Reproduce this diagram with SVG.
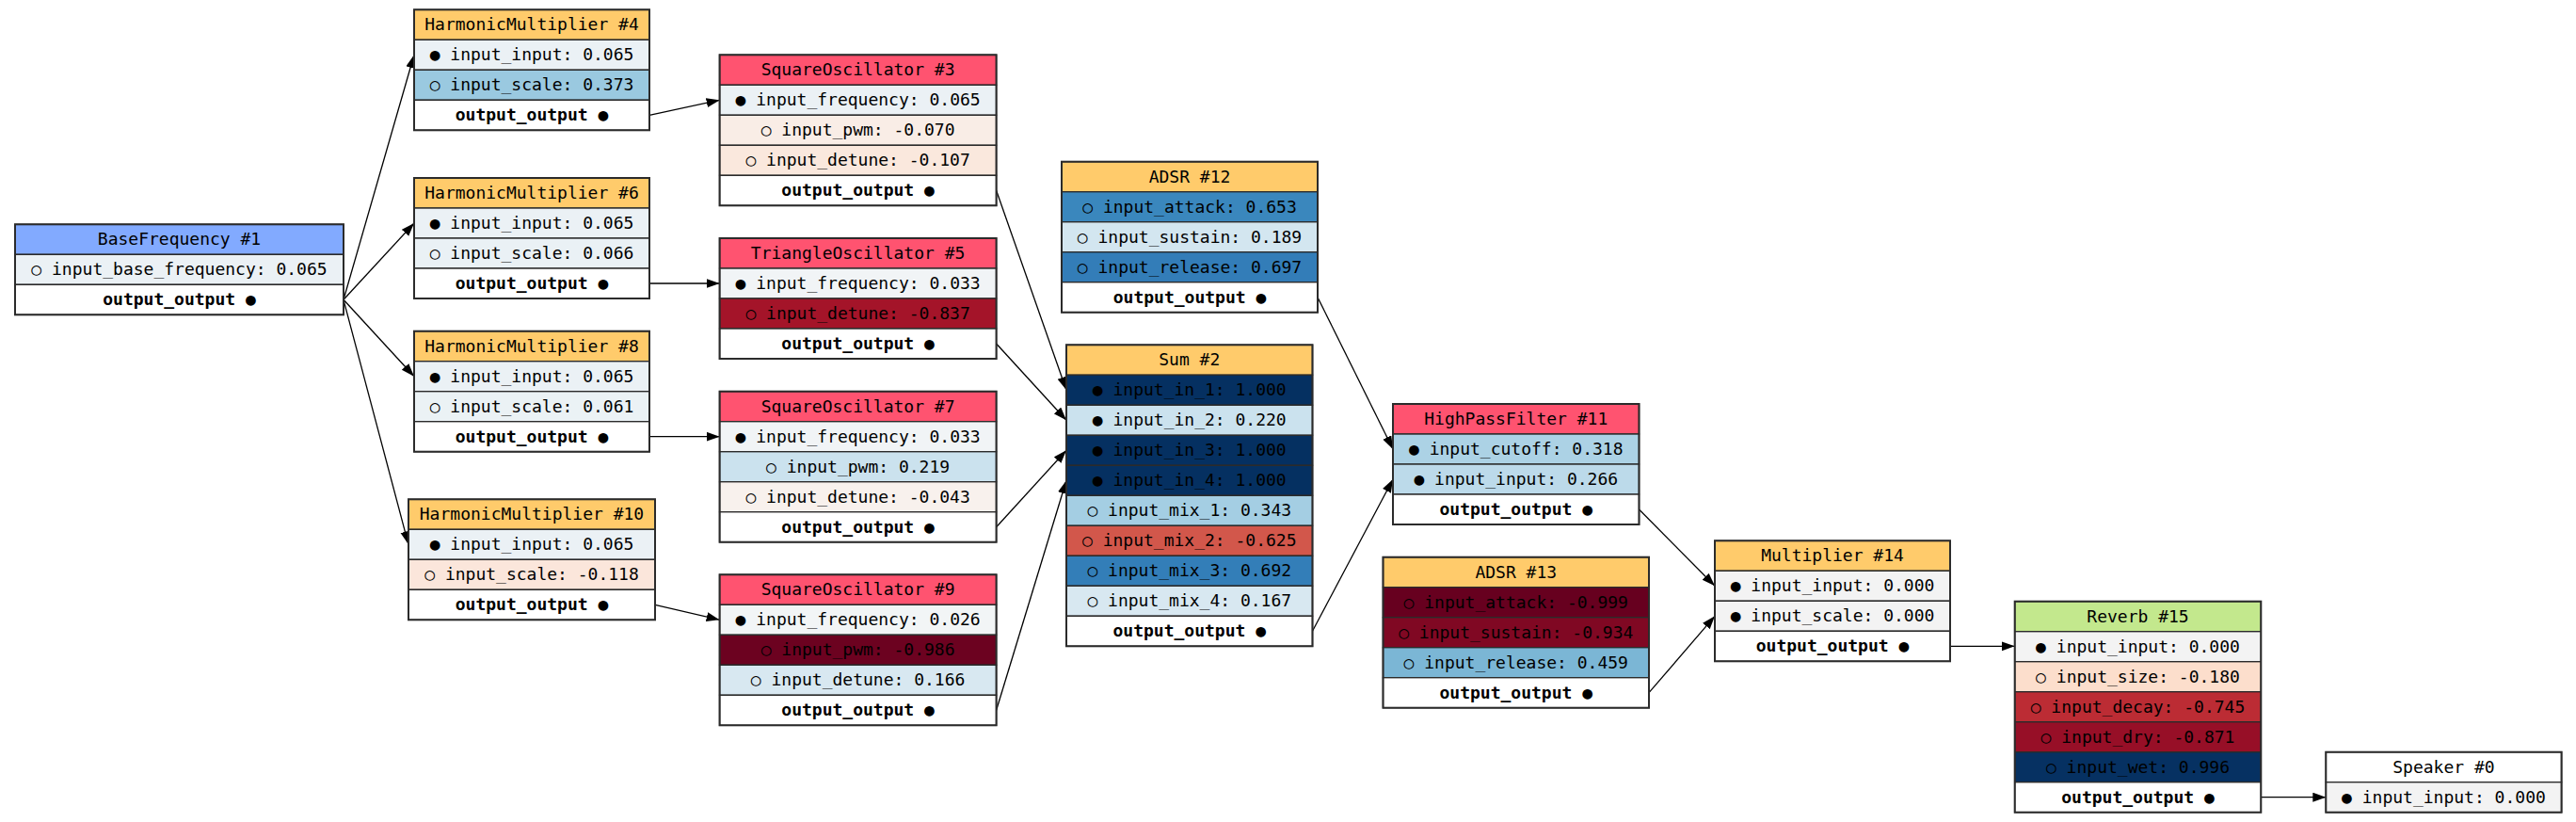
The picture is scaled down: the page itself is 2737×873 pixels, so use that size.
<svg xmlns="http://www.w3.org/2000/svg" width="2737" height="873" viewBox="0 0 2737 873">
<defs>
<marker id="arr" markerUnits="userSpaceOnUse" markerWidth="15" markerHeight="11" refX="14" refY="5" orient="auto">
<path d="M0,0 L14,5 L0,10 z" fill="#000"/>
</marker>
</defs>
<style>
text{font-family:"DejaVu Sans Mono","Liberation Mono",monospace;font-size:18px;fill:#000;text-anchor:middle}
.b{font-weight:bold}
.c{stroke:#2b2b2b;stroke-width:1.4}
.f{fill:none;stroke:#2b2b2b;stroke-width:2}
.e{fill:none;stroke:#000;stroke-width:1.3;marker-end:url(#arr)}
.hy{fill:#ffcb6b}.hr{fill:#ff5370}.hb{fill:#82aaff}.hg{fill:#c3e88d}.hw{fill:#fff}.o{fill:#fff}
</style>
<rect width="2737" height="873" fill="#fff"/>

<g id="edges">
<line class="e" x1="365" y1="318.3" x2="440" y2="58.3"/>
<line class="e" x1="365" y1="318.3" x2="440" y2="237"/>
<line class="e" x1="365" y1="318.3" x2="440" y2="399.7"/>
<line class="e" x1="365" y1="318.3" x2="434" y2="578.3"/>
<line class="e" x1="690" y1="122.3" x2="764.6" y2="106.3"/>
<line class="e" x1="690" y1="301" x2="764.6" y2="301"/>
<line class="e" x1="690" y1="463.7" x2="764.6" y2="463.7"/>
<line class="e" x1="696" y1="642.3" x2="764.6" y2="658.3"/>
<line class="e" x1="1058.6" y1="202.3" x2="1133" y2="414.3"/>
<line class="e" x1="1058.6" y1="365" x2="1133" y2="446.3"/>
<line class="e" x1="1058.6" y1="559.7" x2="1133" y2="478.3"/>
<line class="e" x1="1058.6" y1="754.3" x2="1133" y2="510.3"/>
<line class="e" x1="1400" y1="315.7" x2="1480" y2="477"/>
<line class="e" x1="1394.5" y1="670.3" x2="1480" y2="509"/>
<line class="e" x1="1741.5" y1="541" x2="1822" y2="622.3"/>
<line class="e" x1="1752" y1="735.7" x2="1822" y2="654.3"/>
<line class="e" x1="2072" y1="686.3" x2="2140.7" y2="686.3"/>
<line class="e" x1="2402.3" y1="846.7" x2="2471.3" y2="846.7"/>
</g>

<g id="node1" transform="translate(16,238.3)">
<rect class="c hb" width="349" height="32"/><text x="174.5" y="22">BaseFrequency #1</text>
<rect class="c" y="32" width="349" height="32" fill="#ebf1f5"/><text x="174.5" y="54">○ input_base_frequency: 0.065</text>
<rect class="c o" y="64" width="349" height="32"/><text class="b" x="174.5" y="86">output_output ●</text>
<rect class="f" width="349" height="96"/>
</g>

<g id="node4" transform="translate(440,10.3)">
<rect class="c hy" width="250" height="32"/><text x="125" y="22">HarmonicMultiplier #4</text>
<rect class="c" y="32" width="250" height="32" fill="#ebf1f5"/><text x="125" y="54">● input_input: 0.065</text>
<rect class="c" y="64" width="250" height="32" fill="#9ac9e0"/><text x="125" y="86">○ input_scale: 0.373</text>
<rect class="c o" y="96" width="250" height="32"/><text class="b" x="125" y="118">output_output ●</text>
<rect class="f" width="250" height="128"/>
</g>

<g id="node6" transform="translate(440,189)">
<rect class="c hy" width="250" height="32"/><text x="125" y="22">HarmonicMultiplier #6</text>
<rect class="c" y="32" width="250" height="32" fill="#ebf1f5"/><text x="125" y="54">● input_input: 0.065</text>
<rect class="c" y="64" width="250" height="32" fill="#eaf1f5"/><text x="125" y="86">○ input_scale: 0.066</text>
<rect class="c o" y="96" width="250" height="32"/><text class="b" x="125" y="118">output_output ●</text>
<rect class="f" width="250" height="128"/>
</g>

<g id="node8" transform="translate(440,351.7)">
<rect class="c hy" width="250" height="32"/><text x="125" y="22">HarmonicMultiplier #8</text>
<rect class="c" y="32" width="250" height="32" fill="#ebf1f5"/><text x="125" y="54">● input_input: 0.065</text>
<rect class="c" y="64" width="250" height="32" fill="#ebf2f5"/><text x="125" y="86">○ input_scale: 0.061</text>
<rect class="c o" y="96" width="250" height="32"/><text class="b" x="125" y="118">output_output ●</text>
<rect class="f" width="250" height="128"/>
</g>

<g id="node10" transform="translate(434,530.3)">
<rect class="c hy" width="262" height="32"/><text x="131" y="22">HarmonicMultiplier #10</text>
<rect class="c" y="32" width="262" height="32" fill="#ebf1f5"/><text x="131" y="54">● input_input: 0.065</text>
<rect class="c" y="64" width="262" height="32" fill="#fbe6db"/><text x="131" y="86">○ input_scale: -0.118</text>
<rect class="c o" y="96" width="262" height="32"/><text class="b" x="131" y="118">output_output ●</text>
<rect class="f" width="262" height="128"/>
</g>

<g id="node3" transform="translate(764.6,58.3)">
<rect class="c hr" width="294" height="32"/><text x="147" y="22">SquareOscillator #3</text>
<rect class="c" y="32" width="294" height="32" fill="#ebf1f5"/><text x="147" y="54">● input_frequency: 0.065</text>
<rect class="c" y="64" width="294" height="32" fill="#f9ede6"/><text x="147" y="86">○ input_pwm: -0.070</text>
<rect class="c" y="96" width="294" height="32" fill="#fae8dd"/><text x="147" y="118">○ input_detune: -0.107</text>
<rect class="c o" y="128" width="294" height="32"/><text class="b" x="147" y="150">output_output ●</text>
<rect class="f" width="294" height="160"/>
</g>

<g id="node5" transform="translate(764.6,253)">
<rect class="c hr" width="294" height="32"/><text x="147" y="22">TriangleOscillator #5</text>
<rect class="c" y="32" width="294" height="32" fill="#f1f4f6"/><text x="147" y="54">● input_frequency: 0.033</text>
<rect class="c" y="64" width="294" height="32" fill="#a41429"/><text x="147" y="86">○ input_detune: -0.837</text>
<rect class="c o" y="96" width="294" height="32"/><text class="b" x="147" y="118">output_output ●</text>
<rect class="f" width="294" height="128"/>
</g>

<g id="node7" transform="translate(764.6,415.7)">
<rect class="c hr" width="294" height="32"/><text x="147" y="22">SquareOscillator #7</text>
<rect class="c" y="32" width="294" height="32" fill="#f1f4f6"/><text x="147" y="54">● input_frequency: 0.033</text>
<rect class="c" y="64" width="294" height="32" fill="#cbe2ee"/><text x="147" y="86">○ input_pwm: 0.219</text>
<rect class="c" y="96" width="294" height="32" fill="#f8f1ed"/><text x="147" y="118">○ input_detune: -0.043</text>
<rect class="c o" y="128" width="294" height="32"/><text class="b" x="147" y="150">output_output ●</text>
<rect class="f" width="294" height="160"/>
</g>

<g id="node9" transform="translate(764.6,610.3)">
<rect class="c hr" width="294" height="32"/><text x="147" y="22">SquareOscillator #9</text>
<rect class="c" y="32" width="294" height="32" fill="#f2f5f6"/><text x="147" y="54">● input_frequency: 0.026</text>
<rect class="c" y="64" width="294" height="32" fill="#6c0220"/><text x="147" y="86">○ input_pwm: -0.986</text>
<rect class="c" y="96" width="294" height="32" fill="#d8e8f1"/><text x="147" y="118">○ input_detune: 0.166</text>
<rect class="c o" y="128" width="294" height="32"/><text class="b" x="147" y="150">output_output ●</text>
<rect class="f" width="294" height="160"/>
</g>

<g id="node12" transform="translate(1128,171.7)">
<rect class="c hy" width="272" height="32"/><text x="136" y="22">ADSR #12</text>
<rect class="c" y="32" width="272" height="32" fill="#3a87bd"/><text x="136" y="54">○ input_attack: 0.653</text>
<rect class="c" y="64" width="272" height="32" fill="#d3e6f0"/><text x="136" y="86">○ input_sustain: 0.189</text>
<rect class="c" y="96" width="272" height="32" fill="#337db8"/><text x="136" y="118">○ input_release: 0.697</text>
<rect class="c o" y="128" width="272" height="32"/><text class="b" x="136" y="150">output_output ●</text>
<rect class="f" width="272" height="160"/>
</g>

<g id="node2" transform="translate(1133,366.3)">
<rect class="c hy" width="261.5" height="32"/><text x="130.75" y="22">Sum #2</text>
<rect class="c" y="32" width="261.5" height="32" fill="#053061"/><text x="130.75" y="54">● input_in_1: 1.000</text>
<rect class="c" y="64" width="261.5" height="32" fill="#cbe2ee"/><text x="130.75" y="86">● input_in_2: 0.220</text>
<rect class="c" y="96" width="261.5" height="32" fill="#053061"/><text x="130.75" y="118">● input_in_3: 1.000</text>
<rect class="c" y="128" width="261.5" height="32" fill="#053061"/><text x="130.75" y="150">● input_in_4: 1.000</text>
<rect class="c" y="160" width="261.5" height="32" fill="#a4cee3"/><text x="130.75" y="182">○ input_mix_1: 0.343</text>
<rect class="c" y="192" width="261.5" height="32" fill="#d2574b"/><text x="130.75" y="214">○ input_mix_2: -0.625</text>
<rect class="c" y="224" width="261.5" height="32" fill="#337eb8"/><text x="130.75" y="246">○ input_mix_3: 0.692</text>
<rect class="c" y="256" width="261.5" height="32" fill="#d8e8f1"/><text x="130.75" y="278">○ input_mix_4: 0.167</text>
<rect class="c o" y="288" width="261.5" height="32"/><text class="b" x="130.75" y="310">output_output ●</text>
<rect class="f" width="261.5" height="320"/>
</g>

<g id="node11" transform="translate(1480,429)">
<rect class="c hr" width="261.5" height="32"/><text x="130.75" y="22">HighPassFilter #11</text>
<rect class="c" y="32" width="261.5" height="32" fill="#acd2e5"/><text x="130.75" y="54">● input_cutoff: 0.318</text>
<rect class="c" y="64" width="261.5" height="32" fill="#bcdaea"/><text x="130.75" y="86">● input_input: 0.266</text>
<rect class="c o" y="96" width="261.5" height="32"/><text class="b" x="130.75" y="118">output_output ●</text>
<rect class="f" width="261.5" height="128"/>
</g>

<g id="node13" transform="translate(1469.5,591.7)">
<rect class="c hy" width="282.5" height="32"/><text x="141.25" y="22">ADSR #13</text>
<rect class="c" y="32" width="282.5" height="32" fill="#67001f"/><text x="141.25" y="54">○ input_attack: -0.999</text>
<rect class="c" y="64" width="282.5" height="32" fill="#800823"/><text x="141.25" y="86">○ input_sustain: -0.934</text>
<rect class="c" y="96" width="282.5" height="32" fill="#7bb6d5"/><text x="141.25" y="118">○ input_release: 0.459</text>
<rect class="c o" y="128" width="282.5" height="32"/><text class="b" x="141.25" y="150">output_output ●</text>
<rect class="f" width="282.5" height="160"/>
</g>

<g id="node14" transform="translate(1822,574.3)">
<rect class="c hy" width="250" height="32"/><text x="125" y="22">Multiplier #14</text>
<rect class="c" y="32" width="250" height="32" fill="#f3f3f3"/><text x="125" y="54">● input_input: 0.000</text>
<rect class="c" y="64" width="250" height="32" fill="#f3f3f3"/><text x="125" y="86">● input_scale: 0.000</text>
<rect class="c o" y="96" width="250" height="32"/><text class="b" x="125" y="118">output_output ●</text>
<rect class="f" width="250" height="128"/>
</g>

<g id="node15" transform="translate(2140.7,638.7)">
<rect class="c hg" width="261.6" height="32"/><text x="130.8" y="22">Reverb #15</text>
<rect class="c" y="32" width="261.6" height="32" fill="#f3f3f3"/><text x="130.8" y="54">● input_input: 0.000</text>
<rect class="c" y="64" width="261.6" height="32" fill="#fcdecc"/><text x="130.8" y="86">○ input_size: -0.180</text>
<rect class="c" y="96" width="261.6" height="32" fill="#bc2c34"/><text x="130.8" y="118">○ input_decay: -0.745</text>
<rect class="c" y="128" width="261.6" height="32" fill="#970f27"/><text x="130.8" y="150">○ input_dry: -0.871</text>
<rect class="c" y="160" width="261.6" height="32" fill="#063162"/><text x="130.8" y="182">○ input_wet: 0.996</text>
<rect class="c o" y="192" width="261.6" height="32"/><text class="b" x="130.8" y="214">output_output ●</text>
<rect class="f" width="261.6" height="224"/>
</g>

<g id="node0" transform="translate(2471.3,798.7)">
<rect class="c hw" width="250.3" height="32"/><text x="125.15" y="22">Speaker #0</text>
<rect class="c" y="32" width="250.3" height="32" fill="#f3f3f3"/><text x="125.15" y="54">● input_input: 0.000</text>
<rect class="f" width="250.3" height="64"/>
</g>
</svg>
